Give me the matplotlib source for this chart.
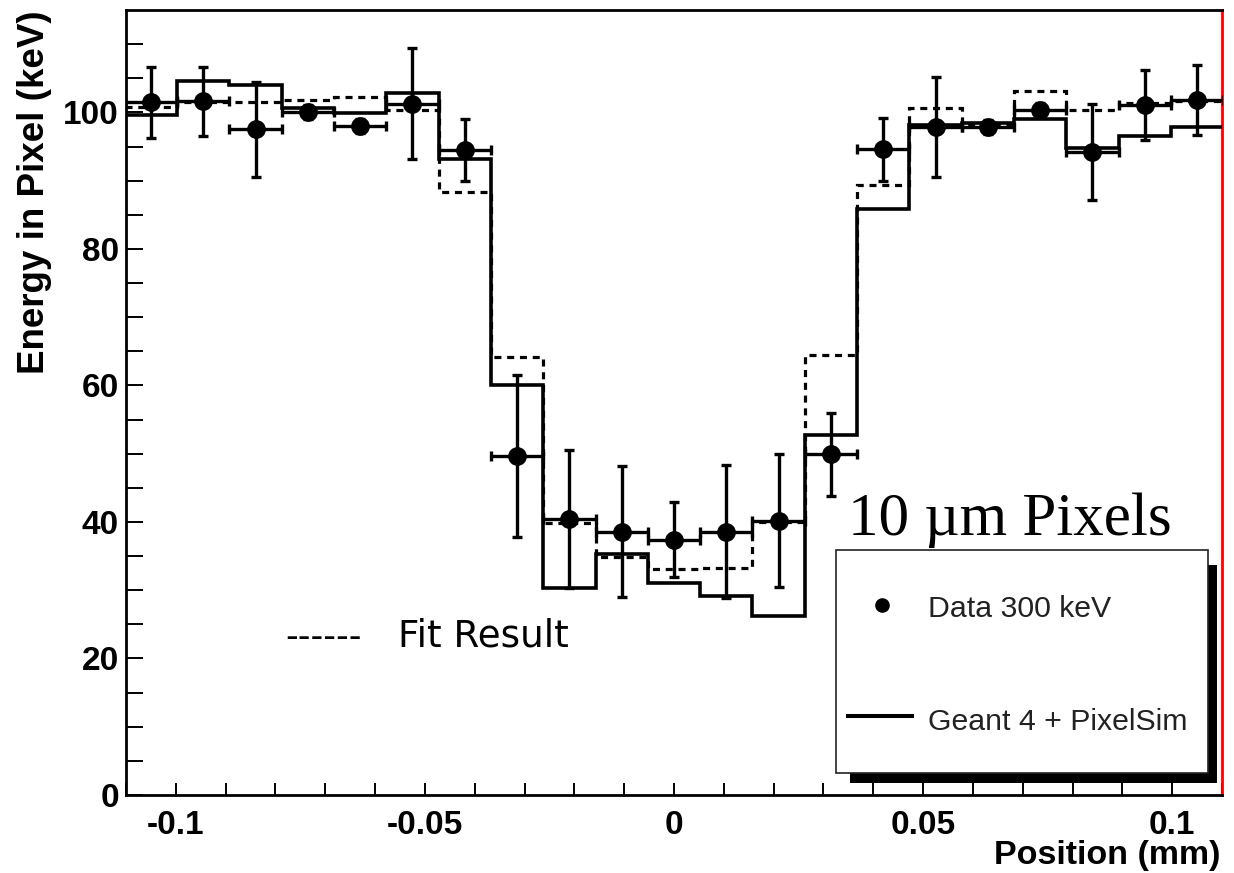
import matplotlib
matplotlib.use('Agg')
import matplotlib.pyplot as plt
import numpy as np
from matplotlib.patches import Rectangle

# pixel positions (mm) and bin width
position = [-0.105, -0.0945, -0.084, -0.0735, -0.063, -0.0525, -0.042,
            -0.0315, -0.021, -0.0105, 0.0, 0.0105, 0.021, 0.0315,
            0.042, 0.0525, 0.063, 0.0735, 0.084, 0.0945, 0.105]
bin_width = 0.0105

# measured energy (keV) and its errors
data_300kev = [101.5, 101.6, 97.5, 100.1, 98.0, 101.3, 94.5,
               49.7, 40.4, 38.6, 37.4, 38.6, 40.2, 49.9,
               94.6, 97.9, 97.9, 100.4, 94.2, 101.1, 101.8]
data_err = [5.2, 5.0, 7.0, 1.0, 1.0, 8.2, 4.5,
            11.9, 10.1, 9.6, 5.5, 9.7, 9.8, 6.1,
            4.6, 7.3, 1.0, 1.0, 7.0, 5.1, 5.1]

# Geant 4 + PixelSim
geant4 = [99.6, 104.6, 104.0, 100.6, 99.9, 102.9, 93.2,
          60.1, 30.3, 35.3, 31.0, 29.1, 26.2, 52.7,
          85.9, 98.2, 98.4, 99.1, 94.8, 96.6, 97.9]

# fit result
fit = [100.8, 101.5, 101.5, 101.8, 102.3, 100.3, 88.3,
       64.2, 39.8, 34.8, 33.1, 33.3, 40.0, 64.5,
       89.3, 100.6, 98.3, 103.2, 100.3, 101.4, 101.6]

xtick_vals = [-0.1, -0.05, 0, 0.05, 0.1]
xtick_labels = ['-0.1', '-0.05', '0', '0.05', '0.1']
ytick_vals = [0, 20, 40, 60, 80, 100]

pos = np.array(position)
edges = np.append(pos - bin_width / 2, pos[-1] + bin_width / 2)

fig = plt.figure(figsize=(12.34, 8.73), dpi=100)
ax = fig.add_axes([126 / 1234, 78 / 873, 1096 / 1234, 785 / 873])

ax.stairs(fit, edges, baseline=None, color='black', lw=2.3,
          linestyle=(0, (2.2, 1.8)), zorder=2)
ax.stairs(geant4, edges, baseline=None, color='black', lw=2.6, zorder=3)
ax.errorbar(pos, data_300kev, xerr=bin_width / 2, yerr=data_err, fmt='o',
            color='black', ms=12.5, elinewidth=2.4, capsize=3.7, capthick=2.4,
            zorder=4)

ax.set_xlim(-0.11, 0.11)
ax.set_ylim(0, 115)

ax.set_xticks(xtick_vals, xtick_labels)
ax.set_xticks(np.arange(-0.11, 0.1101, 0.01), minor=True)
ax.set_yticks(ytick_vals, [str(v) for v in ytick_vals])
ax.set_yticks(np.arange(0, 115, 5), minor=True)

tick_font = dict(family='Liberation Sans', weight='bold', size=24)
for lab in ax.get_xticklabels() + ax.get_yticklabels():
    lab.set_fontproperties(matplotlib.font_manager.FontProperties(**tick_font))

ax.tick_params(axis='x', which='both', direction='in', length=9, width=1.4,
               pad=11, top=False)
ax.tick_params(axis='y', which='both', direction='in', length=12, width=1.4,
               pad=5, right=False)

for side in ['left', 'bottom', 'top']:
    ax.spines[side].set_linewidth(2.0)
ax.spines['right'].set_color('red')
ax.spines['right'].set_linewidth(2.0)

fig.text(1220 / 1234, 1 - 864 / 873, 'Position (mm)', ha='right',
         va='baseline', family='Liberation Sans', weight='bold', size=24.5)
fig.text(35 / 1234, 1 - 10 / 873, 'Energy in Pixel (keV)', rotation=90,
         ha='center', va='top', family='Liberation Sans', weight='bold',
         size=26.5)

# legend box with drop shadow
tr = ax.transAxes
ax.add_patch(Rectangle((0.6606, 0.0153), 0.9954 - 0.6606, 0.293 - 0.0153,
                       transform=tr, facecolor='black', edgecolor='none',
                       zorder=6, clip_on=False))
ax.add_patch(Rectangle((0.6478, 0.028), 0.9872 - 0.6478, 0.3121 - 0.028,
                       transform=tr, facecolor='white', edgecolor='#222222',
                       lw=1.2, zorder=7, clip_on=False))
ax.plot([0.6895], [0.2420], 'o', color='black', ms=9.5, transform=tr,
        zorder=8, clip_on=False)
ax.plot([0.6588, 0.7172], [0.1006, 0.1006], color='black', lw=2.9,
        transform=tr, zorder=8, clip_on=False)
leg_font = dict(family='Liberation Sans', size=21.8, color='#222222')
ax.text(0.7318, 0.2264, 'Data 300 keV', transform=tr, va='baseline',
        zorder=8, **leg_font)
ax.text(0.7318, 0.0828, 'Geant 4 + PixelSim', transform=tr, va='baseline',
        zorder=8, **leg_font)

ax.text(0.6588, 0.3312, '10 \u00b5m Pixels', transform=tr, va='baseline',
        family='Liberation Serif', size=44, color='black', zorder=8)
ax.text(0.1451, 0.1889, '------', transform=tr, va='baseline',
        family='DejaVu Sans', size=25.5, color='black', zorder=8)
ax.text((398 - 126) / 1096, 0.1889, 'Fit Result', transform=tr,
        va='baseline', family='DejaVu Sans', size=26.8, color='black',
        zorder=8)

fig.savefig('out.png', dpi=100)
